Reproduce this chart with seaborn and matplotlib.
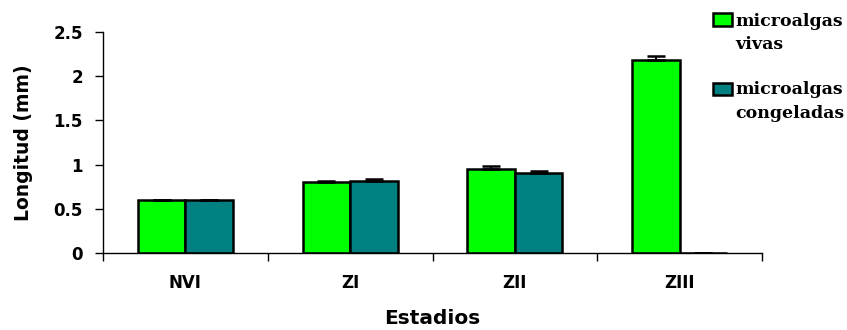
import matplotlib
matplotlib.use("Agg")
import matplotlib.pyplot as plt
from matplotlib.patches import Rectangle
import seaborn as sns
import pandas as pd
import numpy as np

# Larval length by stage, fed with live or frozen microalgae
estadios = ["NVI", "ZI", "ZII", "ZIII"]
series = ["microalgas\nvivas", "microalgas\ncongeladas"]
vivas = [0.60, 0.80, 0.95, 2.18]
congeladas = [0.60, 0.82, 0.91, 0.0]
err_vivas = [0.0, 0.02, 0.04, 0.05]
err_congeladas = [0.0, 0.015, 0.02, 0.0]
yticks = [0, 0.5, 1, 1.5, 2, 2.5]
ytick_labels = ["0", "0.5", "1", "1.5", "2", "2.5"]

colors = ["#00FF00", "#008080"]

df = pd.DataFrame({
    "Estadios": estadios * 2,
    "Longitud": vivas + congeladas,
    "Serie": [series[0]] * len(estadios) + [series[1]] * len(estadios),
    "err": err_vivas + err_congeladas,
})

sns.set_style("white")
plt.rcParams["font.family"] = ["DejaVu Sans"]
plt.rcParams["text.color"] = "black"
plt.rcParams["xtick.color"] = "black"
plt.rcParams["ytick.color"] = "black"
plt.rcParams["axes.labelcolor"] = "black"

fig = plt.figure(figsize=(8.47, 3.30), dpi=100)
ax = fig.add_axes([103 / 847, 1 - 253.3 / 330, (762 - 103) / 847, (253.3 - 31.7) / 330])

sns.barplot(data=df, x="Estadios", y="Longitud", hue="Serie", order=estadios,
            hue_order=series, palette=colors, saturation=1, width=0.576, gap=0,
            errorbar=None, edgecolor="black", linewidth=1.8, ax=ax, legend=False)

# upward error bars at each bar centre
for i, serie in enumerate(series):
    container = ax.containers[i]
    sub = df[df["Serie"] == serie].set_index("Estadios").loc[estadios]
    xs = [p.get_x() + p.get_width() / 2 for p in container.patches]
    ax.errorbar(xs, sub["Longitud"].values,
                yerr=[np.zeros(len(xs)), sub["err"].values],
                fmt="none", ecolor="black", elinewidth=1.4, capsize=6.2,
                capthick=1.8, zorder=3)

ax.set_xlim(-0.5, len(estadios) - 0.5)
ax.set_ylim(0, 2.5)
ax.set_yticks(yticks)
ax.set_yticklabels(ytick_labels, fontsize=12, fontweight="bold")

# boundary ticks between stages, labels centred on each stage
ax.set_xticks(np.arange(-0.5, len(estadios), 1.0))
ax.set_xticklabels([])
ax.set_xticks(np.arange(len(estadios)), minor=True)
ax.set_xticklabels(estadios, minor=True, fontsize=12, fontweight="bold")
ax.tick_params(axis="x", which="major", direction="out", length=5.5, width=1,
               color="black", bottom=True)
ax.tick_params(axis="x", which="minor", length=0, pad=15)
ax.tick_params(axis="y", direction="out", length=5.5, width=1, color="black",
               left=True, pad=9)

for side in ["top", "right"]:
    ax.spines[side].set_visible(False)
for side in ["left", "bottom"]:
    ax.spines[side].set_color("black")
    ax.spines[side].set_linewidth(1)

ax.set_xlabel("Estadios", fontsize=14.5, fontweight="bold", labelpad=12)
ax.set_ylabel("Longitud (mm)", fontsize=13.5, fontweight="bold", labelpad=15)

# key to the two series, drawn in figure pixels at the upper right
W, H = 847, 330
key_tops = [13.5, 82.5]
for color, label, top in zip(colors, series, key_tops):
    fig.patches.append(Rectangle((712.5 / W, 1 - (top + 12) / H), 19 / W, 12 / H,
                                 transform=fig.transFigure, facecolor=color,
                                 edgecolor="black", linewidth=1.8))
    first, second = label.split("\n")
    fig.text(735 / W, 1 - (top + 12) / H, first, family="DejaVu Serif",
             weight="bold", size=12.5, va="baseline", ha="left")
    fig.text(735 / W, 1 - (top + 35.5) / H, second, family="DejaVu Serif",
             weight="bold", size=12.5, va="baseline", ha="left")

fig.savefig("out.png", dpi=100)
